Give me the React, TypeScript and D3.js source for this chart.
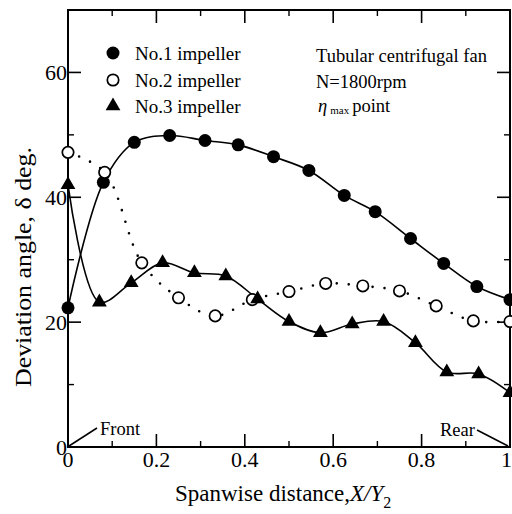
import React from "react";
import * as d3 from "d3";

// ---- data ----
const xTicksMajor = [0, 0.2, 0.4, 0.6, 0.8, 1];
const xTickLabels = ["0", "0.2", "0.4", "0.6", "0.8", "1"];
const xTicksMinor = [0.1, 0.3, 0.5, 0.7, 0.9];
const yTicksMajor = [0, 20, 40, 60];
const yTickLabels = ["0", "20", "40", "60"];
const yTicksMinor = [10, 30, 50];

// No.1 impeller (filled circles)
const x1 = [0, 0.08, 0.15, 0.23, 0.31, 0.385, 0.465, 0.545, 0.625, 0.695, 0.775, 0.85, 0.925, 1.0];
const y1 = [22.3, 42.4, 48.8, 49.9, 49.1, 48.4, 46.5, 44.3, 40.3, 37.7, 33.4, 29.4, 25.7, 23.6];

// No.2 impeller (open circles, dotted)
const x2 = [0, 0.083, 0.167, 0.25, 0.333, 0.417, 0.5, 0.583, 0.667, 0.75, 0.833, 0.917, 1.0];
const y2 = [47.2, 44.0, 29.5, 23.9, 21.0, 23.6, 24.9, 26.2, 25.8, 25.0, 22.6, 20.2, 20.1];

// No.3 impeller (triangles)
const x3 = [0, 0.071, 0.143, 0.214, 0.286, 0.357, 0.429, 0.5, 0.571, 0.643, 0.714, 0.786, 0.857, 0.929, 1.0];
const y3 = [42.0, 23.2, 26.3, 29.5, 27.9, 27.4, 23.7, 20.1, 18.3, 19.7, 20.1, 16.7, 12.0, 11.7, 8.7];

const legendLabels = ["No.1 impeller", "No.2 impeller", "No.3 impeller"];
const infoLines = ["Tubular centrifugal fan", "N=1800rpm"];

const FONT = "'Liberation Serif', 'Times New Roman', serif";

export default function App() {
  const W = 512, H = 514;
  const left = 68, right = 510, top = 10, bottom = 447;
  const x = d3.scaleLinear().domain([0, 1]).range([left, right]);
  const y = d3.scaleLinear().domain([0, 70]).range([bottom, top]);

  const line = d3
    .line<[number, number]>()
    .x((d) => x(d[0]))
    .y((d) => y(d[1]))
    .curve(d3.curveCatmullRom.alpha(0.5));

  const pts = (xs: number[], ys: number[]) => xs.map((v, i) => [v, ys[i]] as [number, number]);
  const p1 = pts(x1, y1);
  const p2 = pts(x2, y2);
  const p3 = pts(x3, y3);

  const tri = d3.symbol().type(d3.symbolTriangle).size(95)();
  const R = 6.5;

  const majorLen = 13, minorLen = 6;

  return (
    <svg
      width={W}
      height={H}
      style={{ position: "absolute", left: 0, top: 0, background: "#fff" }}
      fontFamily={FONT}
    >
      <rect x={0} y={0} width={W} height={H} fill="#fff" />
      {/* frame */}
      <rect x={left} y={top} width={right - left} height={bottom - top} fill="none" stroke="#000" strokeWidth={2} />

      {/* ticks */}
      {xTicksMajor.map((t) => (
        <g key={"xM" + t}>
          <line x1={x(t)} x2={x(t)} y1={bottom} y2={bottom - majorLen} stroke="#000" strokeWidth={1.6} />
          <line x1={x(t)} x2={x(t)} y1={top} y2={top + majorLen} stroke="#000" strokeWidth={1.6} />
        </g>
      ))}
      {xTicksMinor.map((t) => (
        <g key={"xm" + t}>
          <line x1={x(t)} x2={x(t)} y1={bottom} y2={bottom - minorLen} stroke="#000" strokeWidth={1.4} />
          <line x1={x(t)} x2={x(t)} y1={top} y2={top + minorLen} stroke="#000" strokeWidth={1.4} />
        </g>
      ))}
      {yTicksMajor.map((t) => (
        <g key={"yM" + t}>
          <line x1={left} x2={left + majorLen} y1={y(t)} y2={y(t)} stroke="#000" strokeWidth={1.6} />
          <line x1={right} x2={right - majorLen} y1={y(t)} y2={y(t)} stroke="#000" strokeWidth={1.6} />
        </g>
      ))}
      {yTicksMinor.map((t) => (
        <g key={"ym" + t}>
          <line x1={left} x2={left + minorLen} y1={y(t)} y2={y(t)} stroke="#000" strokeWidth={1.4} />
          <line x1={right} x2={right - minorLen} y1={y(t)} y2={y(t)} stroke="#000" strokeWidth={1.4} />
        </g>
      ))}

      {/* tick labels */}
      {xTicksMajor.map((t, i) => (
        <text
          key={"xl" + t}
          x={t === 1 ? W : x(t)}
          y={bottom + 20}
          fontSize={22}
          textAnchor={t === 1 ? "end" : "middle"}
        >
          {xTickLabels[i]}
        </text>
      ))}
      {yTicksMajor.map((t, i) => (
        <text key={"yl" + t} x={left - 1} y={y(t) + 7.5} fontSize={22} textAnchor="end">
          {yTickLabels[i]}
        </text>
      ))}

      {/* axis titles */}
      <text x={175} y={501} fontSize={23}>
        Spanwise distance,<tspan fontStyle="italic">X/Y</tspan>
        <tspan fontSize={16} dy={7}>2</tspan>
      </text>
      <text
        transform={`translate(31, 267) rotate(-90)`}
        fontSize={23}
        textAnchor="middle"
        textLength={240}
        lengthAdjust="spacingAndGlyphs"
      >
        Deviation angle, δ deg.
      </text>

      {/* curves */}
      <path d={line(p1) || ""} fill="none" stroke="#000" strokeWidth={1.6} />
      <path
        d={line(p2) || ""}
        fill="none"
        stroke="#000"
        strokeWidth={2.6}
        strokeDasharray="0 12"
        strokeLinecap="round"
      />
      <path d={line(p3) || ""} fill="none" stroke="#000" strokeWidth={1.6} />

      {/* markers */}
      {p1.map((d, i) => (
        <circle key={"m1" + i} cx={x(d[0])} cy={y(d[1])} r={R} fill="#000" />
      ))}
      {p2.map((d, i) => (
        <circle key={"m2" + i} cx={x(d[0])} cy={y(d[1])} r={R - 0.8} fill="#fff" stroke="#000" strokeWidth={1.7} />
      ))}
      {p3.map((d, i) => (
        <path key={"m3" + i} d={tri || ""} transform={`translate(${x(d[0])},${y(d[1])})`} fill="#000" />
      ))}

      {/* legend */}
      <circle cx={113} cy={53} r={R} fill="#000" />
      <circle cx={113} cy={80} r={R - 0.8} fill="#fff" stroke="#000" strokeWidth={1.7} />
      <path d={tri || ""} transform="translate(113,106)" fill="#000" />
      {legendLabels.map((s, i) => (
        <text key={s} x={135} y={60 + i * 26.5} fontSize={19}>
          {s}
        </text>
      ))}

      {/* info text */}
      {infoLines.map((s, i) => (
        <text key={s} x={316} y={62 + i * 26} fontSize={18.5}>
          {s}
        </text>
      ))}
      <text x={318} y={112} fontSize={18.5}>
        <tspan fontStyle="italic">η</tspan>
        <tspan fontSize={11} dx={3} dy={2}>max</tspan>
        <tspan dx={3} dy={-2}>point</tspan>
      </text>

      {/* annotations */}
      <line x1={69} y1={446} x2={97} y2={428} stroke="#000" strokeWidth={1.5} />
      <text x={100} y={435} fontSize={18.5}>Front</text>
      <text x={440} y={436} fontSize={18.5}>Rear</text>
      <line x1={477} y1={430} x2={508} y2={446} stroke="#000" strokeWidth={1.5} />
    </svg>
  );
}
